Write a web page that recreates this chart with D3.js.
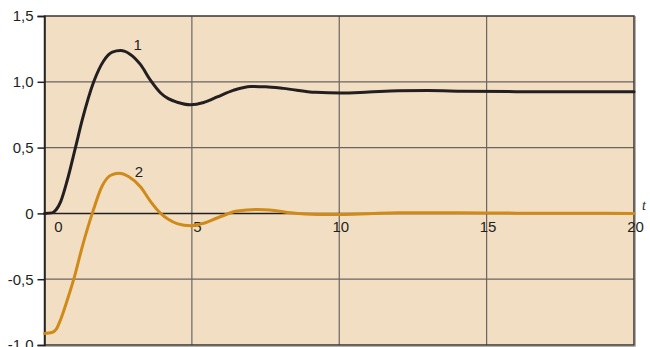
<!DOCTYPE html>
<html>
<head>
<meta charset="utf-8">
<script src="https://cdn.jsdelivr.net/npm/d3@7"></script>
<style>
  body { margin: 0; background: #fff; }
  svg { display: block; font-family: "Liberation Sans", Arial, sans-serif; }
</style>
</head>
<body>
<div id="chart"></div>
<script>
// curve data (t, value)
const t1 = [0, 0.25, 0.4, 0.55, 0.77, 1.05, 1.28, 1.67, 2.01, 2.3, 2.58, 2.9, 3.26, 3.6, 3.94, 4.2, 4.5, 4.95, 5.4, 5.86, 6.4, 7.0, 7.5, 8.1, 9.2, 10.05, 11, 12, 13, 14.2, 16, 18, 20];
const v1 = [0, 0.004, 0.03, 0.09, 0.25, 0.5, 0.71, 1.0, 1.16, 1.225, 1.237, 1.21, 1.13, 1.01, 0.915, 0.872, 0.845, 0.826, 0.843, 0.885, 0.935, 0.965, 0.962, 0.95, 0.92, 0.914, 0.922, 0.932, 0.933, 0.929, 0.925, 0.924, 0.924];

const t2 = [0, 0.25, 0.4, 0.54, 0.77, 1.0, 1.28, 1.62, 1.96, 2.25, 2.52, 2.85, 3.26, 3.6, 3.94, 4.2, 4.5, 4.96, 5.4, 5.86, 6.54, 7.2, 7.8, 8.35, 9.26, 10.05, 11, 12, 14, 16, 18, 20];
const v2 = [-0.912, -0.905, -0.88, -0.81, -0.66, -0.494, -0.254, 0, 0.21, 0.29, 0.305, 0.28, 0.2, 0.09, 0.0, -0.045, -0.078, -0.094, -0.075, -0.035, 0.018, 0.03, 0.022, 0.005, -0.008, -0.008, -0.002, 0.005, 0.004, 0.002, 0.001, 0];

const xTicks = [0, 5, 10, 15, 20];
const xTickLabels = ["0", "5", "10", "15", "20"];
const yTicks = [-1, -0.5, 0, 0.5, 1, 1.5];
const yTickLabels = ["-1,0", "-0,5", "0", "0,5", "1,0", "1,5"];
const curveLabels = ["1", "2"];

const width = 650, height = 347;
const pLeft = 44.5, pRight = 634, pTop = 16, pBottom = 345;

const x = d3.scaleLinear().domain([0, 20]).range([pLeft, pRight]);
const y = d3.scaleLinear().domain([-1, 1.5]).range([pBottom, pTop]);

const svg = d3.select('#chart').append('svg')
  .attr('width', width)
  .attr('height', height);

// plot background
svg.append('rect')
  .attr('x', pLeft).attr('y', pTop)
  .attr('width', pRight - pLeft).attr('height', pBottom - pTop)
  .attr('fill', '#f2dfc3');

// grid
svg.append('g')
  .selectAll('line')
  .data(xTicks.filter(d => d > 0 && d < 20))
  .join('line')
  .attr('x1', d => x(d)).attr('x2', d => x(d))
  .attr('y1', pTop).attr('y2', pBottom)
  .attr('stroke', '#6b6560').attr('stroke-width', 1.2);

svg.append('g')
  .selectAll('line')
  .data(yTicks.filter(d => d > -1 && d < 1.5 && d !== 0))
  .join('line')
  .attr('x1', pLeft).attr('x2', pRight)
  .attr('y1', d => y(d)).attr('y2', d => y(d))
  .attr('stroke', '#6b6560').attr('stroke-width', 1.2);

// zero line
svg.append('line')
  .attr('x1', pLeft).attr('x2', pRight)
  .attr('y1', y(0)).attr('y2', y(0))
  .attr('stroke', '#231f20').attr('stroke-width', 1.5);

// frame
svg.append('rect')
  .attr('x', pLeft).attr('y', pTop)
  .attr('width', pRight - pLeft).attr('height', pBottom - pTop)
  .attr('fill', 'none')
  .attr('stroke', '#3a3633').attr('stroke-width', 1.5);
svg.append('line')
  .attr('x1', pRight + 1.5).attr('x2', pRight + 1.5)
  .attr('y1', pTop).attr('y2', pBottom + 1.5)
  .attr('stroke', '#b5b0ab').attr('stroke-width', 1);
svg.append('line')
  .attr('x1', pLeft).attr('x2', pRight + 1.5)
  .attr('y1', pBottom + 1.5).attr('y2', pBottom + 1.5)
  .attr('stroke', '#b5b0ab').attr('stroke-width', 1);

// y axis ticks + labels
const yAxis = d3.axisLeft(y)
  .tickValues(yTicks)
  .tickSize(7)
  .tickPadding(4)
  .tickFormat((d, i) => yTickLabels[i]);

svg.append('g')
  .attr('transform', `translate(${pLeft},0)`)
  .call(yAxis)
  .call(g => g.select('.domain').attr('stroke', '#231f20').attr('stroke-width', 1.5))
  .call(g => g.selectAll('.tick line').attr('stroke', '#231f20').attr('stroke-width', 1.5))
  .call(g => g.selectAll('.tick text')
    .attr('fill', '#231f20')
    .style('font-size', '15px')
    .style('font-family', '"Liberation Sans", Arial, sans-serif'));

// x axis labels
const xOffset = { 0: 13.5, 5: 5, 10: 1, 15: 1, 20: 1 };
const xAxis = d3.axisBottom(x)
  .tickValues(xTicks)
  .tickSize(0)
  .tickPadding(8)
  .tickFormat((d, i) => xTickLabels[i]);

svg.append('g')
  .attr('transform', `translate(0,${y(0)})`)
  .call(xAxis)
  .call(g => g.select('.domain').remove())
  .call(g => g.selectAll('.tick text')
    .attr('dx', d => xOffset[d])
    .attr('fill', '#231f20')
    .style('font-size', '15px')
    .style('font-family', '"Liberation Sans", Arial, sans-serif'));

svg.append('text')
  .attr('x', 644).attr('y', 210)
  .attr('text-anchor', 'middle')
  .attr('fill', '#231f20')
  .style('font-size', '14px')
  .style('font-style', 'italic')
  .style('font-family', '"Liberation Serif", serif')
  .text('t');

// curves
const line = d3.line()
  .x(d => x(d[0]))
  .y(d => y(d[1]))
  .curve(d3.curveMonotoneX);

const series = [
  { pts: t2.map((t, i) => [t, v2[i]]), color: '#cf8a1a' },
  { pts: t1.map((t, i) => [t, v1[i]]), color: '#231f20' }
];

svg.append('g')
  .selectAll('path')
  .data(series)
  .join('path')
  .attr('d', d => line(d.pts))
  .attr('fill', 'none')
  .attr('stroke', d => d.color)
  .attr('stroke-width', 3)
  .attr('stroke-linejoin', 'round')
  .attr('stroke-linecap', 'round');

// curve number labels, next to each peak
const labelPos = [[3.16, 1.285], [3.2, 0.316]];
svg.append('g')
  .selectAll('text')
  .data(curveLabels)
  .join('text')
  .attr('x', (d, i) => x(labelPos[i][0]))
  .attr('y', (d, i) => y(labelPos[i][1]))
  .attr('text-anchor', 'middle')
  .attr('dy', '0.35em')
  .attr('fill', '#231f20')
  .style('font-size', '15px')
  .text(d => d);
</script>
</body>
</html>
